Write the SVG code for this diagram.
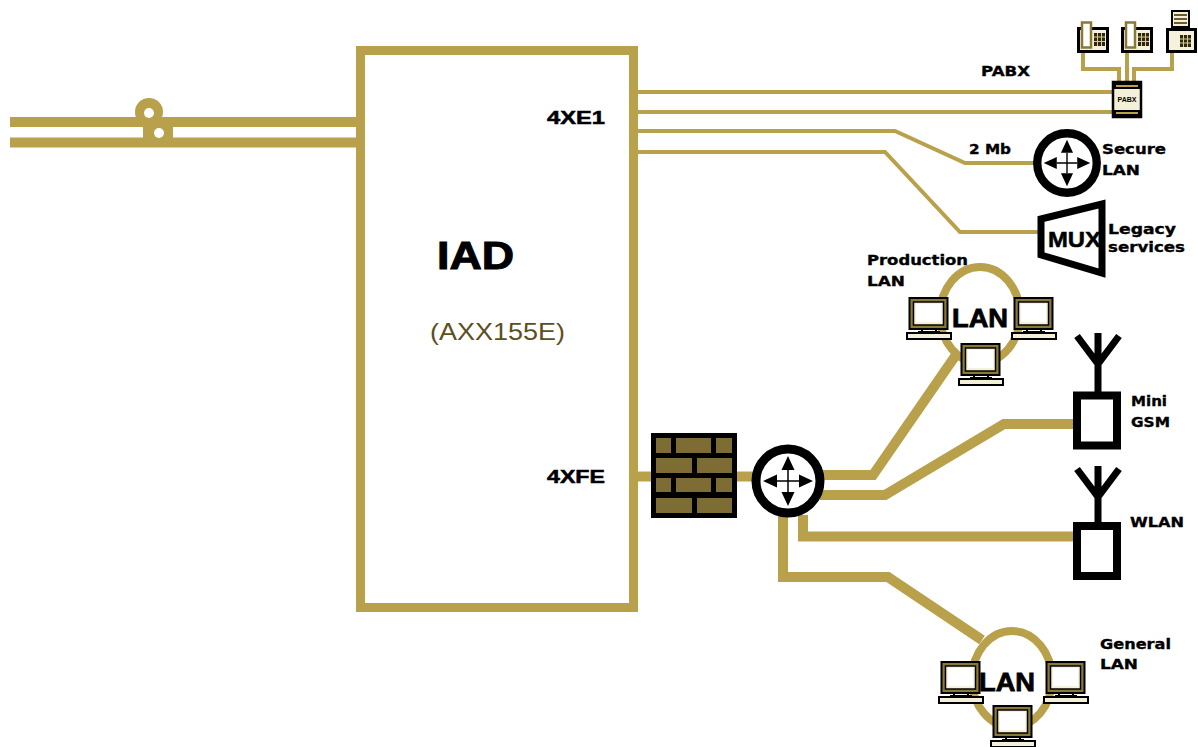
<svg xmlns="http://www.w3.org/2000/svg" xmlns:xlink="http://www.w3.org/1999/xlink" width="1198" height="747" viewBox="0 0 1198 747">
<style>
.bg{fill:#fff}
.g{fill:none;stroke:#b9a04a;stroke-linejoin:miter}
.w10{stroke-width:10}
.w4{stroke-width:4}
.t{font-family:"DejaVu Sans",sans-serif;font-weight:700;fill:#000;stroke:#000;stroke-width:.35px;font-size:14px}
.a{font-family:"Liberation Sans",Arial,sans-serif;font-weight:700;fill:#000;stroke:#000;stroke-width:.5px}
.brick{fill:#7d6c33}
</style>
<defs>
<g id="router-sym">
<circle cx="0" cy="0" r="32" fill="#fff" stroke="#000" stroke-width="9"/>
<path d="M0,-11V11M-11,0H11" stroke="#000" stroke-width="1.500" fill="none"/>
<path d="M0,-25L-6.500,-11H6.500ZM0,25L-6.500,11H6.500ZM-25,0L-11,-6.500V6.500ZM25,0L11,-6.500V6.500Z" fill="#000"/>
</g>
<g id="pc">
<rect x="3.500" y="1" width="38" height="31" fill="#8a7836" stroke="#000" stroke-width="2"/>
<rect x="7.500" y="5" width="30" height="23" fill="#f6f1dc" stroke="#000" stroke-width="1.500"/>
<rect x="10" y="7" width="25" height="18" fill="#fff"/>
<path d="M16,32v4M30,32v4M12,35h22" stroke="#000" stroke-width="2" fill="none"/>
<rect x="1" y="36" width="44" height="6" fill="#f4efd8" stroke="#000" stroke-width="2"/>
</g>
<g id="phone">
<rect x="1.500" y="7.500" width="29" height="23" fill="#f6f1dc" stroke="#000" stroke-width="3"/>
<rect x="5" y="1.500" width="9" height="25" fill="#fff" stroke="#8a7836" stroke-width="2.500"/>
<rect x="17" y="12" width="11" height="13" fill="#2d270f"/>
<path d="M20.500,12v13M24.500,12v13M17,16h11M17,20.500h11" stroke="#d8cc90" stroke-width="1"/>
</g>
<g id="antenna">
<path d="M0,0V59M-21,3L0,31L21,3" fill="none" stroke="#000" stroke-width="7"/>
</g>
</defs>
<rect class="bg" width="1198" height="747"/>

<g id="connectors">
<path class="g w10" d="M10,122H358"/>
<path class="g w10" d="M10,142.500H358"/>
<path class="g w4" d="M638,92H1113"/>
<path class="g w4" d="M638,112H1113"/>
<path class="g w4" d="M638,131H895L965,163H1036"/>
<path class="g w4" d="M638,152H885L960,232H1040"/>
<path class="g w10" d="M638,476.500H652"/>
<path class="g w10" d="M736,476.500H755"/>
<path class="g w10" d="M822,475H873L958,352"/>
<path class="g w10" d="M820,495H885L1004,424H1074"/>
<path class="g w10" d="M803,515V536.500H1075"/>
<path class="g w10" d="M783,515V577H888L982,640"/>
<path class="g w4" d="M1083,50V69H1119V82"/>
<path class="g w4" d="M1127,50V82"/>
<path class="g w4" d="M1172,50V69H1134V82"/>
</g>

<g id="line-loop">
<circle cx="149" cy="112" r="14" fill="#b9a04a"/>
<rect x="143" y="117" width="30" height="30" fill="#b9a04a"/>
<circle cx="149" cy="113" r="5" fill="#fff"/>
<circle cx="159" cy="133" r="5" fill="#fff"/>
</g>

<g id="iad">
<rect x="360.500" y="50.500" width="273" height="557" fill="#fff" stroke="#b9a04a" stroke-width="9"/>
<text class="a" x="437" y="269" font-size="38" textLength="77" lengthAdjust="spacingAndGlyphs" style="stroke-width:1px">IAD</text>
<text x="430" y="340" font-family="Liberation Sans,Arial,sans-serif" font-size="24" textLength="135" lengthAdjust="spacingAndGlyphs" fill="#5c4f20">(AXX155E)</text>
<text class="a" x="547" y="124" font-size="18" textLength="58" lengthAdjust="spacingAndGlyphs">4XE1</text>
<text class="a" x="547" y="483" font-size="18" textLength="58" lengthAdjust="spacingAndGlyphs">4XFE</text>
</g>

<g id="firewall">
<rect x="651" y="433" width="86" height="85" fill="#000"/>
<rect class="brick" x="656" y="438" width="15" height="15"/><rect class="brick" x="676" y="438" width="35" height="15"/><rect class="brick" x="716" y="438" width="16" height="15"/>
<rect class="brick" x="656" y="458" width="36" height="15"/><rect class="brick" x="697" y="458" width="35" height="15"/>
<rect class="brick" x="656" y="478" width="15" height="14"/><rect class="brick" x="676" y="478" width="35" height="14"/><rect class="brick" x="716" y="478" width="16" height="14"/>
<rect class="brick" x="656" y="498" width="36" height="15"/><rect class="brick" x="697" y="498" width="35" height="15"/>
</g>

<g id="router"><use xlink:href="#router-sym" href="#router-sym" transform="translate(788,481)"/></g>
<g id="secure-lan">
<use xlink:href="#router-sym" href="#router-sym" transform="translate(1067,163) scale(.93)"/>
<text class="t" x="1102" y="154" textLength="64" lengthAdjust="spacingAndGlyphs">Secure</text>
<text class="t" x="1102" y="175" textLength="38" lengthAdjust="spacingAndGlyphs">LAN</text>
<text class="t" x="969" y="154" textLength="42" lengthAdjust="spacingAndGlyphs">2 Mb</text>
</g>

<g id="mux">
<path d="M1041,219L1102,204V273L1041,255Z" fill="#fff" stroke="#000" stroke-width="7"/>
<text class="a" x="1048" y="247" font-size="22" textLength="53" lengthAdjust="spacingAndGlyphs">MUX</text>
<text class="t" x="1108" y="234" textLength="68" lengthAdjust="spacingAndGlyphs">Legacy</text>
<text class="t" x="1108" y="252" textLength="77" lengthAdjust="spacingAndGlyphs">services</text>
</g>

<g id="pabx">
<rect x="1113" y="82" width="28" height="35" fill="#f4efd8" stroke="#000" stroke-width="2.500"/>
<rect x="1114" y="83" width="26" height="6" fill="#000"/>
<rect x="1114" y="110" width="26" height="6" fill="#000"/>
<rect x="1116" y="85" width="22" height="2" fill="#b9a04a"/>
<rect x="1116" y="112" width="22" height="2" fill="#b9a04a"/>
<text x="1127" y="102" font-family="Liberation Sans,Arial,sans-serif" font-weight="700" font-size="7" text-anchor="middle" fill="#000">PABX</text>
<text class="t" x="981" y="76" textLength="49" lengthAdjust="spacingAndGlyphs">PABX</text>
</g>
<g id="phone-1"><use xlink:href="#phone" href="#phone" transform="translate(1077,21)"/></g>
<g id="phone-2"><use xlink:href="#phone" href="#phone" transform="translate(1121,21)"/></g>
<g id="fax">
<rect x="1167.500" y="29.500" width="28" height="22" fill="#f6f1dc" stroke="#000" stroke-width="3"/>
<rect x="1172" y="11" width="17" height="16" fill="#f4efd8" stroke="#000" stroke-width="2"/>
<path d="M1174,15h13M1174,19h13M1174,23h13" stroke="#6b5c28" stroke-width="2"/>
<rect x="1180" y="35" width="11" height="12" fill="#2d270f"/>
<path d="M1183.500,35v12M1187.500,35v12M1180,39h11M1180,43h11" stroke="#d8cc90" stroke-width="1"/>
</g>

<g id="production-lan">
<ellipse cx="980" cy="315" rx="40" ry="48" fill="none" stroke="#b9a04a" stroke-width="8"/>
<rect x="945" y="300" width="70" height="40" fill="#fff" opacity="0"/>
<use xlink:href="#pc" href="#pc" transform="translate(906,297)"/>
<use xlink:href="#pc" href="#pc" transform="translate(1011,297)"/>
<use xlink:href="#pc" href="#pc" transform="translate(958,343)"/>
<text class="a" x="952" y="327" font-size="26" textLength="56" lengthAdjust="spacingAndGlyphs" style="stroke-width:.8px">LAN</text>
<text class="t" x="867" y="265" textLength="101" lengthAdjust="spacingAndGlyphs">Production</text>
<text class="t" x="867" y="286" textLength="38" lengthAdjust="spacingAndGlyphs">LAN</text>
</g>

<g id="general-lan">
<ellipse cx="1012" cy="679" rx="40" ry="48" fill="none" stroke="#b9a04a" stroke-width="8"/>
<use xlink:href="#pc" href="#pc" transform="translate(938,661)"/>
<use xlink:href="#pc" href="#pc" transform="translate(1043,661)"/>
<use xlink:href="#pc" href="#pc" transform="translate(990,705)"/>
<text class="a" x="979" y="691" font-size="26" textLength="56" lengthAdjust="spacingAndGlyphs" style="stroke-width:.8px">LAN</text>
<text class="t" x="1100" y="649" textLength="71" lengthAdjust="spacingAndGlyphs">General</text>
<text class="t" x="1100" y="669" textLength="38" lengthAdjust="spacingAndGlyphs">LAN</text>
</g>

<g id="mini-gsm">
<use xlink:href="#antenna" href="#antenna" transform="translate(1098,333)"/>
<rect x="1077" y="395.500" width="40" height="50" fill="#fff" stroke="#000" stroke-width="8"/>
<text class="t" x="1131" y="406" textLength="36" lengthAdjust="spacingAndGlyphs">Mini</text>
<text class="t" x="1131" y="427" textLength="39" lengthAdjust="spacingAndGlyphs">GSM</text>
</g>

<g id="wlan">
<use xlink:href="#antenna" href="#antenna" transform="translate(1098,466)"/>
<rect x="1077" y="526" width="40" height="50" fill="#fff" stroke="#000" stroke-width="8"/>
<text class="t" x="1130" y="527" textLength="54" lengthAdjust="spacingAndGlyphs">WLAN</text>
</g>
</svg>
